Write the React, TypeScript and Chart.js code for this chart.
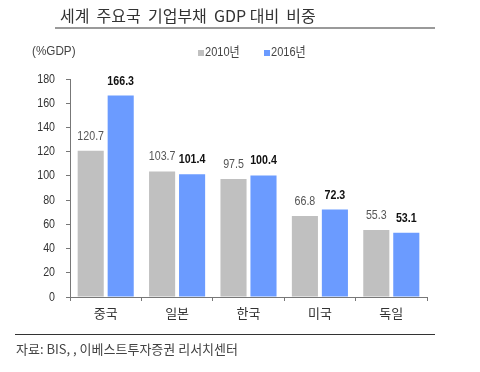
import React, { useEffect, useRef } from "react";
import { Chart, registerables } from "chart.js";

Chart.register(...registerables);

const categories = ["중국", "일본", "한국", "미국", "독일"];
const series2010 = [120.7, 103.7, 97.5, 66.8, 55.3];
const series2016 = [166.3, 101.4, 100.4, 72.3, 53.1];
const seriesNames = ["2010년", "2016년"];
const yTicks = [0, 20, 40, 60, 80, 100, 120, 140, 160, 180];

const SANS = '"Liberation Sans", "Noto Sans CJK KR", sans-serif';
const KR = '"Noto Sans CJK KR", "Liberation Sans", sans-serif';
const GRAY = "#c0c0c0";
const BLUE = "#6b9bff";

function narrowText(ctx: any, text: string, x: number, y: number, sx: number) {
  ctx.save();
  ctx.translate(x, y);
  ctx.scale(sx, 1);
  ctx.fillText(text, 0, 0);
  ctx.restore();
}

const decorPlugin = {
  id: "decor",
  afterDraw(chart: any) {
    const ctx = chart.ctx;
    ctx.save();
    // title
    ctx.fillStyle = "#333";
    ctx.font = `16px ${KR}`;
    ctx.textBaseline = "middle";
    ctx.textAlign = "left";
    ctx.fillText("세계  주요국  기업부채  GDP 대비  비중", 60, 16);
    ctx.fillStyle = "#9a9a9a";
    ctx.fillRect(55, 27, 380, 2);
    // unit
    ctx.fillStyle = "#444";
    ctx.font = `13px ${SANS}`;
    narrowText(ctx, "(%GDP)", 32, 51, 0.9);
    // legend
    const items = [
      { x: 198, c: GRAY, t: seriesNames[0] },
      { x: 264, c: BLUE, t: seriesNames[1] },
    ];
    ctx.font = `13px ${SANS}`;
    for (const it of items) {
      ctx.fillStyle = it.c;
      ctx.fillRect(it.x, 50, 6, 6);
      ctx.fillStyle = "#444";
      narrowText(ctx, it.t, it.x + 7, 52, 0.85);
    }
    // y tick labels
    const ys = chart.scales.y;
    ctx.fillStyle = "#333";
    ctx.font = `13px ${SANS}`;
    ctx.textAlign = "right";
    for (const v of yTicks) {
      narrowText(ctx, String(v), 55, ys.getPixelForValue(v), 0.82);
    }
    ctx.textAlign = "left";
    // footer
    ctx.fillStyle = "#333";
    ctx.fillRect(15, 334, 420, 1);
    ctx.fillStyle = "#444";
    ctx.font = `13px ${KR}`;
    ctx.fillText("자료: BIS, , 이베스트투자증권 리서치센터", 16, 349);
    ctx.restore();
  },
  afterDatasetsDraw(chart: any) {
    const ctx = chart.ctx;
    ctx.save();
    ctx.textAlign = "center";
    ctx.textBaseline = "bottom";
    chart.data.datasets.forEach((ds: any, di: number) => {
      const meta = chart.getDatasetMeta(di);
      meta.data.forEach((bar: any, i: number) => {
        if (di === 0) {
          ctx.font = `13px ${SANS}`;
          ctx.fillStyle = "#555";
        } else {
          ctx.font = `bold 13px ${SANS}`;
          ctx.fillStyle = "#111";
        }
        narrowText(ctx, ds.data[i].toFixed(1), bar.x, bar.y - 8, 0.82);
      });
    });
    ctx.restore();
  },
};

export default function App() {
  const ref = useRef<HTMLCanvasElement | null>(null);
  useEffect(() => {
    document.body.style.margin = "0";
    const chart = new Chart(ref.current!, {
      type: "bar",
      data: {
        labels: categories,
        datasets: [
          { label: seriesNames[0], data: series2010, backgroundColor: GRAY, categoryPercentage: 0.84, barPercentage: 0.87 },
          { label: seriesNames[1], data: series2016, backgroundColor: BLUE, categoryPercentage: 0.84, barPercentage: 0.87 },
        ],
      },
      options: {
        animation: false,
        responsive: false,
        layout: { padding: { top: 79, right: 53, bottom: 0, left: 0 } },
        plugins: { legend: { display: false }, tooltip: { enabled: false } },
        scales: {
          x: {
            grid: { display: true, drawOnChartArea: false, drawTicks: true, tickLength: 4, color: "#777", offset: true },
            border: { color: "#777" },
            ticks: { color: "#333", font: { family: KR, size: 13 }, padding: 4 },
            afterFit: (s: any) => { s.height = 75; },
          },
          y: {
            min: 0,
            max: 180,
            afterBuildTicks: (s: any) => { s.ticks = yTicks.map((v) => ({ value: v })); },
            grid: { display: true, drawOnChartArea: false, drawTicks: true, tickLength: 4, color: "#777" },
            border: { color: "#777" },
            ticks: { display: false },
            afterFit: (s: any) => { s.width = 70; },
          },
        },
      } as any,
      plugins: [decorPlugin],
    });
    return () => chart.destroy();
  }, []);
  return <canvas ref={ref} width={480} height={372} style={{ display: "block" }} />;
}
